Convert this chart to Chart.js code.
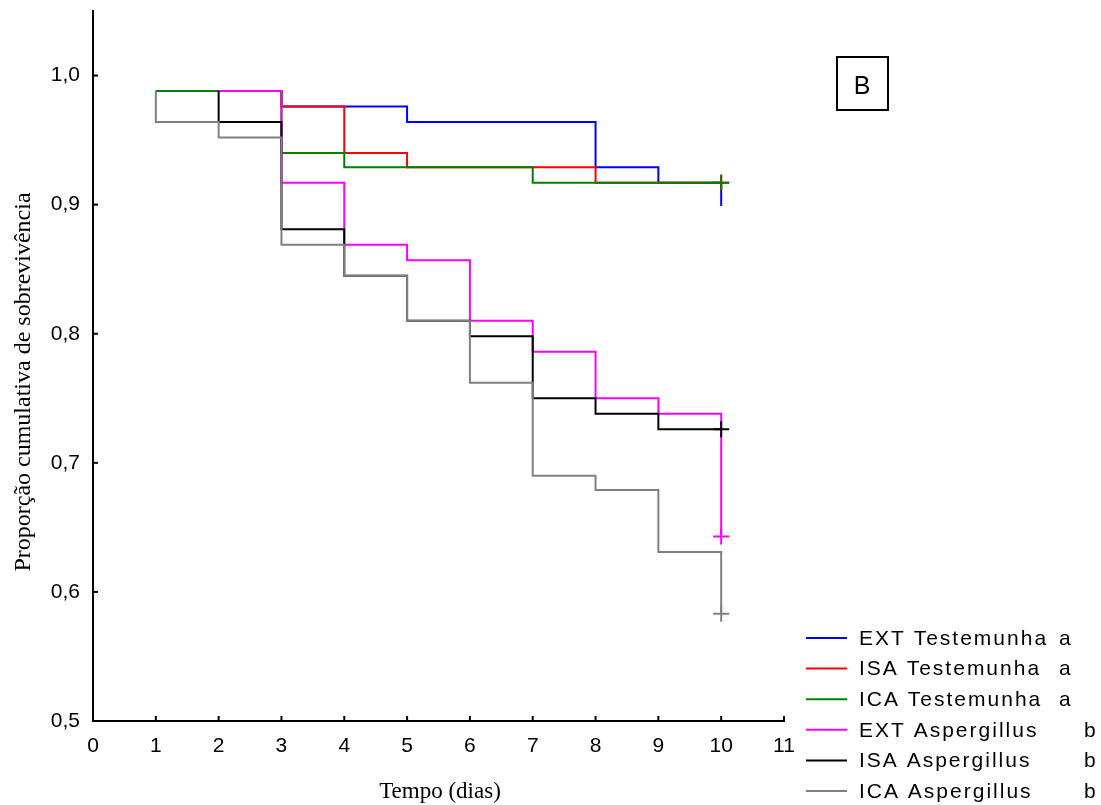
<!DOCTYPE html>
<html lang="pt">
<head>
<meta charset="UTF-8">
<title>Proporção cumulativa de sobrevivência</title>
<script src="https://cdn.jsdelivr.net/npm/chart.js@4.4.1/dist/chart.umd.min.js"></script>
<style>
  html, body { margin: 0; padding: 0; background: #fff; }
  #wrap { width: 1101px; height: 805px; }
</style>
</head>
<body>
<div id="wrap"><canvas id="survChart" width="1101" height="805"></canvas></div>
<script>
// grupos e letras de significância
const seriesNames = ['EXT Testemunha', 'ISA Testemunha', 'ICA Testemunha', 'EXT Aspergillus', 'ISA Aspergillus', 'ICA Aspergillus'];
const seriesLetters = ['a', 'a', 'a', 'b', 'b', 'b'];
const seriesColors = ['#0000ff', '#ff0000', '#008000', '#ff00ff', '#000000', '#808080'];
const censored = [false, true, true, true, true, true];

// Kaplan-Meier: dia do evento e proporção após o degrau
const extTestDays = [1, 3, 5, 8, 9, 10];
const extTestSurv = [0.988, 0.976, 0.964, 0.929, 0.917, 0.899];
const isaTestDays = [1, 3, 4, 5, 8, 10];
const isaTestSurv = [0.988, 0.976, 0.940, 0.929, 0.917, 0.917];
const icaTestDays = [1, 3, 4, 7, 10];
const icaTestSurv = [0.988, 0.940, 0.929, 0.917, 0.917];
const extAspDays = [2, 3, 4, 5, 6, 7, 8, 9, 10];
const extAspSurv = [0.988, 0.917, 0.869, 0.857, 0.810, 0.786, 0.750, 0.738, 0.643];
const isaAspDays = [2, 2, 3, 4, 5, 6, 7, 8, 9, 10];
const isaAspSurv = [0.988, 0.964, 0.881, 0.845, 0.810, 0.798, 0.750, 0.738, 0.726, 0.726];
const icaAspDays = [1, 1, 2, 3, 4, 5, 6, 7, 8, 9, 10];
const icaAspSurv = [0.988, 0.964, 0.952, 0.869, 0.845, 0.810, 0.762, 0.690, 0.679, 0.631, 0.583];

const xTickValues = [0, 1, 2, 3, 4, 5, 6, 7, 8, 9, 10, 11];
const yTickValues = [0.5, 0.6, 0.7, 0.8, 0.9, 1.0];
const yTickLabels = ['0,5', '0,6', '0,7', '0,8', '0,9', '1,0'];

document.addEventListener('DOMContentLoaded', () => {
    const allDays = [extTestDays, isaTestDays, icaTestDays, extAspDays, isaAspDays, icaAspDays];
    const allSurv = [extTestSurv, isaTestSurv, icaTestSurv, extAspSurv, isaAspSurv, icaAspSurv];

    const datasets = seriesNames.map((name, i) => ({
        label: name,
        data: allDays[i].map((d, j) => ({ x: d, y: allSurv[i][j] })),
        borderColor: seriesColors[i],
        backgroundColor: seriesColors[i],
        borderWidth: 2,
        stepped: true,
        fill: false,
        pointStyle: 'cross',
        pointBorderColor: seriesColors[i],
        pointBorderWidth: 2,
        pointRadius: (ctx) => (censored[i] && ctx.dataIndex === allDays[i].length - 1) ? 8 : 0,
        order: seriesNames.length - 1 - i // o último grupo fica por cima
    }));

    // ticks para dentro, títulos dos eixos, caixa "B" e legenda
    const decorPlugin = {
        id: 'decor',
        afterDraw: (chart) => {
            const ctx = chart.ctx;
            const xs = chart.scales.x;
            const ys = chart.scales.y;
            const area = chart.chartArea;
            ctx.save();
            ctx.strokeStyle = '#000';
            ctx.lineWidth = 2;
            xTickValues.forEach(v => {
                const px = xs.getPixelForValue(v);
                ctx.beginPath();
                ctx.moveTo(px, area.bottom);
                ctx.lineTo(px, area.bottom - 5);
                ctx.stroke();
            });
            yTickValues.forEach(v => {
                const py = ys.getPixelForValue(v);
                ctx.beginPath();
                ctx.moveTo(area.left, py);
                ctx.lineTo(area.left + 5, py);
                ctx.stroke();
            });

            ctx.fillStyle = '#000';
            ctx.textAlign = 'center';
            ctx.textBaseline = 'alphabetic';
            ctx.font = '23px "Liberation Serif", "Times New Roman", serif';
            ctx.fillText('Tempo (dias)', 440, 798);
            ctx.save();
            ctx.translate(30, 382);
            ctx.rotate(-Math.PI / 2);
            ctx.font = '24px "Liberation Serif", "Times New Roman", serif';
            ctx.fillText('Proporção cumulativa de sobrevivência', 0, 0);
            ctx.restore();

            // caixa B
            ctx.lineWidth = 2;
            ctx.strokeRect(837, 57, 51, 53);
            ctx.font = '25px "Liberation Sans", Arial, sans-serif';
            ctx.fillText('B', 862, 94);

            // legenda
            ctx.font = '21px "Liberation Sans", Arial, sans-serif';
            ctx.textAlign = 'left';
            ctx.textBaseline = 'middle';
            ctx.letterSpacing = '2px';
            seriesNames.forEach((name, i) => {
                const y = 638 + i * 30.6;
                ctx.strokeStyle = seriesColors[i];
                ctx.beginPath();
                ctx.moveTo(806, y);
                ctx.lineTo(847, y);
                ctx.stroke();
                ctx.fillText(name, 859, y + 1);
                ctx.fillText(seriesLetters[i], seriesLetters[i] === 'a' ? 1059 : 1084, y + 1);
            });
            ctx.restore();
        }
    };

    const tickFont = { family: '"Liberation Sans", Arial, sans-serif', size: 21, lineHeight: 1 };

    new Chart(document.getElementById('survChart'), {
        type: 'line',
        data: { datasets },
        options: {
            responsive: false,
            animation: false,
            layout: { padding: { left: 0, right: 317, top: 11, bottom: 0 } },
            plugins: {
                legend: { display: false },
                tooltip: { enabled: false }
            },
            scales: {
                x: {
                    type: 'linear',
                    min: 0,
                    max: 11,
                    afterFit: (scale) => { scale.height = 84; },
                    afterBuildTicks: (scale) => { scale.ticks = xTickValues.map(v => ({ value: v })); },
                    grid: { display: false, drawTicks: true, tickLength: 15 },
                    border: { display: true, color: '#000', width: 2 },
                    ticks: { color: '#000', font: tickFont, padding: 0, maxRotation: 0 }
                },
                y: {
                    type: 'linear',
                    min: 0.5,
                    max: 1.05,
                    afterFit: (scale) => { scale.width = 93; },
                    afterBuildTicks: (scale) => { scale.ticks = yTickValues.map(v => ({ value: v })); },
                    grid: { display: false, drawTicks: true, tickLength: 13 },
                    border: { display: true, color: '#000', width: 2 },
                    ticks: {
                        color: '#000',
                        font: tickFont,
                        padding: 0,
                        callback: (value) => {
                            const k = yTickValues.findIndex(v => Math.abs(v - value) < 1e-6);
                            return k >= 0 ? yTickLabels[k] : '';
                        }
                    }
                }
            }
        },
        plugins: [decorPlugin]
    });
});
</script>
</body>
</html>
